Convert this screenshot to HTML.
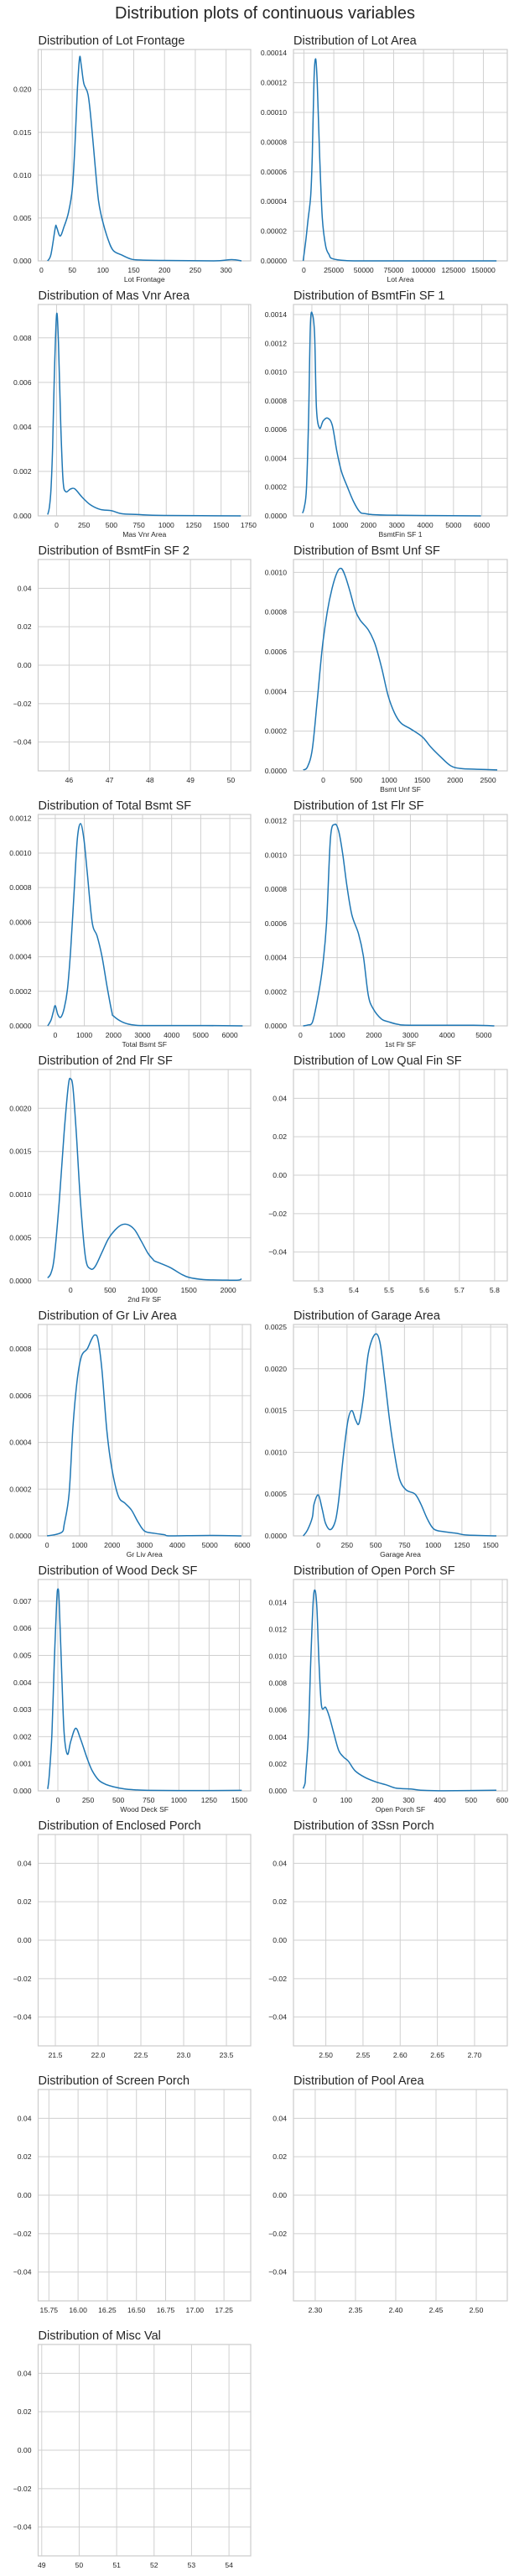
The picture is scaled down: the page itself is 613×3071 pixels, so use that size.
<!DOCTYPE html>
<html><head><meta charset="utf-8">
<style>
html,body{margin:0;padding:0;background:#fff;}
svg{display:block;font-family:"Liberation Sans",Arial,sans-serif;}
</style></head>
<body>
<svg id="fig" width="613" height="3071" viewBox="0 0 613 3071" xmlns="http://www.w3.org/2000/svg">
<rect width="613" height="3071" fill="#fff"/>
<text x="316" y="22" font-size="20" fill="#262626" text-anchor="middle">Distribution plots of continuous variables</text>
</svg>
<script>
// ---- data arrays ----
const lotFrontageX=[10,15.5,22.5,24.6,30.4,36.8,43.8,50.2,54.5,58.2,62,64.6,68.9,75.8,81.1,87.5,92.8,99.2,108.8,116.8,130,146,162,200,280,309,325];
const lotFrontageY=[0,0.00075,0.00385,0.00395,0.0029,0.0040,0.0056,0.0084,0.0135,0.0197,0.0237,0.0229,0.0207,0.0194,0.0161,0.0109,0.0070,0.0047,0.0024,0.0012,0.0007,0.0002,0.0001,0.00005,0,0.00015,0];
const lotAreaX=[-600,1600,3500,5700,7000,8500,9900,11200,13200,15400,18200,21000,23700,35000,60000,161000];
const lotAreaY=[0,0.0000137,0.0000279,0.0000439,0.0000702,0.000123,0.000136,0.000119,0.0000702,0.0000288,0.00001,0.0000043,0.0000015,0.0000002,0,0];
const masVnrX=[-81,-66,-51,-36,-21,0,17,38,59,83,128,167,233,308,398,502,592,742,981,1680];
const masVnrY=[0.00006,0.00037,0.00119,0.0031,0.0062,0.00905,0.0078,0.0041,0.0016,0.00109,0.00121,0.00121,0.00084,0.0005,0.00029,0.00023,0.0001,0.00006,0.00002,0];
const bsmtFin1X=[-331,-268,-192,-117,-52,22,98,161,268,397,556,720,881,1042,1256,1470,1684,1895,2650,5970];
const bsmtFin1Y=[0.000019,0.00006,0.00019,0.00067,0.00133,0.0014,0.00125,0.00075,0.00061,0.00066,0.00068,0.00063,0.00045,0.00031,0.0002,0.0001,0.00003,0.000015,0.000005,0];
const bsmtUnfX=[-304,-240,-166,-90,-15,60,134,210,274,335,409,484,559,684,784,885,983,1083,1182,1332,1507,1632,1782,1932,2081,2330,2640];
const bsmtUnfY=[0.000005,0.00002,0.00011,0.00036,0.00062,0.0008,0.00092,0.001,0.00102,0.00098,0.0009,0.00081,0.00076,0.00071,0.00064,0.00052,0.00038,0.00029,0.00024,0.00021,0.00017,0.00012,0.00007,0.000026,0.000012,0.000008,0.000005];
const totalBsmtX=[-259,-147,-69,0,89,190,305,418,530,643,758,870,985,1098,1268,1438,1608,1778,1945,2003,2340,2737,3190,5140,6440];
const totalBsmtY=[0,0.000033,0.00008,0.000117,0.000065,0.00005,0.0001,0.00021,0.00044,0.00076,0.00108,0.00117,0.00108,0.00089,0.0006,0.00052,0.0004,0.00023,0.00008,0.000057,0.00002,0.000004,0.000002,0.000002,0];
const firstFlrX=[72,200,323,459,594,710,818,935,1043,1150,1267,1402,1583,1715,1850,1985,2209,2387,2657,3017,4722,5290];
const firstFlrY=[0,0.000005,0.00002,0.00015,0.00033,0.0006,0.0011,0.00118,0.00114,0.00101,0.00082,0.00065,0.00054,0.00041,0.00018,0.0001,0.00004,0.000025,0.000009,0.000004,0.000004,0];
const secondFlrX=[-292,-250,-209,-146,-83,-29,0,29,71,125,188,251,313,397,480,564,647,732,814,897,981,1044,1065,1148,1273,1399,1503,1690,1983,2128,2170];
const secondFlrY=[0.000034,0.00009,0.00027,0.00091,0.00172,0.00227,0.00234,0.00224,0.00172,0.00091,0.00027,0.00014,0.00017,0.00033,0.00049,0.00059,0.00065,0.00065,0.00059,0.00046,0.00032,0.00025,0.00023,0.0002,0.00015,0.00008,0.00004,0.000015,0.000008,0.000008,0.000024];
const grLivX=[0,273,474,525,677,798,929,1060,1232,1363,1464,1566,1687,1838,1989,2191,2393,2596,2797,2999,3302,3604,3808,5017,5970];
const grLivY=[0,0.000006,0.000018,0.000047,0.00018,0.00047,0.00067,0.00077,0.0008,0.00084,0.00086,0.00084,0.00071,0.00045,0.00029,0.00017,0.00014,0.00011,0.000059,0.00002,0.000011,0.000005,0,0.000002,0];
const garageX=[-131,-94,-52,-37,0,34,63,106,149,177,220,258,292,327,355,392,435,492,536,578,621,664,707,764,842,893,950,1007,1093,1207,1294,1550];
const garageY=[0,0.00007,0.00022,0.00038,0.00049,0.00032,0.00015,0.000075,0.00018,0.00042,0.00098,0.00138,0.0015,0.00138,0.00135,0.00165,0.00218,0.00241,0.00232,0.00188,0.00138,0.00098,0.00068,0.00055,0.0005,0.00038,0.0002,0.00008,0.00005,0.00003,0.00001,0];
const woodDeckX=[-84,-71,-49,-30,-10,0,11,33,52,79,106,147,187,242,283,337,391,459,554,636,745,1152,1520];
const woodDeckY=[0.00007,0.00058,0.00212,0.0047,0.00696,0.00745,0.00696,0.00418,0.00212,0.00135,0.00182,0.00231,0.00192,0.0012,0.00075,0.0004,0.00025,0.00015,0.00007,0.00004,0.00002,0.00001,0.00002];
const openPorchX=[-38,-32,-30,-21,-14,-6,0,6,13,21,34,46,60,76,92,107,128,160,197,228,260,307,339,413,581];
const openPorchY=[0.00017,0.00055,0.0012,0.0043,0.0094,0.014,0.0149,0.0136,0.0094,0.0063,0.0062,0.0055,0.0043,0.003,0.0025,0.0022,0.0015,0.001,0.00065,0.00045,0.0002,0.00014,0.00005,0.00001,0.00005];

const titles=["Lot Frontage","Lot Area","Mas Vnr Area","BsmtFin SF 1","BsmtFin SF 2","Bsmt Unf SF","Total Bsmt SF","1st Flr SF","2nd Flr SF","Low Qual Fin SF","Gr Liv Area","Garage Area","Wood Deck SF","Open Porch SF","Enclosed Porch","3Ssn Porch","Screen Porch","Pool Area","Misc Val"];
const xTicksList=[[0,50,100,150,200,250,300],[0,25000,50000,75000,100000,125000,150000],[0,250,500,750,1000,1250,1500,1750],[0,1000,2000,3000,4000,5000,6000],[46,47,48,49,50],[0,500,1000,1500,2000,2500],[0,1000,2000,3000,4000,5000,6000],[0,1000,2000,3000,4000,5000],[0,500,1000,1500,2000],[5.3,5.4,5.5,5.6,5.7,5.8],[0,1000,2000,3000,4000,5000,6000],[0,250,500,750,1000,1250,1500],[0,250,500,750,1000,1250,1500],[0,100,200,300,400,500,600],[21.5,22,22.5,23,23.5],[2.5,2.55,2.6,2.65,2.7],[15.75,16,16.25,16.5,16.75,17,17.25],[2.3,2.35,2.4,2.45,2.5],[49,50,51,52,53,54]];
const xTickDec=[0,0,0,0,0,0,0,0,0,1,0,0,0,0,1,2,2,2,0];
const emptyYTicks=[-0.04,-0.02,0,0.02,0.04];
const yTicksList=[[0,0.005,0.01,0.015,0.02],[0,0.00002,0.00004,0.00006,0.00008,0.0001,0.00012,0.00014],[0,0.002,0.004,0.006,0.008],[0,0.0002,0.0004,0.0006,0.0008,0.001,0.0012,0.0014],emptyYTicks,[0,0.0002,0.0004,0.0006,0.0008,0.001],[0,0.0002,0.0004,0.0006,0.0008,0.001,0.0012],[0,0.0002,0.0004,0.0006,0.0008,0.001,0.0012],[0,0.0005,0.001,0.0015,0.002],emptyYTicks,[0,0.0002,0.0004,0.0006,0.0008],[0,0.0005,0.001,0.0015,0.002,0.0025],[0,0.001,0.002,0.003,0.004,0.005,0.006,0.007],[0,0.002,0.004,0.006,0.008,0.01,0.012,0.014],emptyYTicks,emptyYTicks,emptyYTicks,emptyYTicks,emptyYTicks];
const yTickDec=[3,5,3,4,2,4,4,4,4,2,4,4,3,3,2,2,2,2,2];
const xDomains=[[-5.3,340],[-8700,170000],[-168,1770],[-650,6900],[45.234,50.49],[-452,2792],[-588,6718],[-192,5645],[-413,2286],[5.2286,5.836],[-273,6257],[-216,1645],[-163,1594],[-69,616],[21.299,23.784],[2.4565,2.744],[15.658,17.479],[2.273,2.5385],[48.904,54.58]];
const yDomains=[[0,0.02467],[0,0.0001424],[0,0.0095],[0,0.00147],[-0.055,0.055],[0,0.001065],[0,0.001223],[0,0.001238],[0,0.00245],[-0.055,0.055],[0,0.000905],[0,0.00253],[0,0.0078],[0,0.0157],[-0.055,0.055],[-0.055,0.055],[-0.055,0.055],[-0.055,0.055],[-0.055,0.055]];
const seriesX=[lotFrontageX,lotAreaX,masVnrX,bsmtFin1X,null,bsmtUnfX,totalBsmtX,firstFlrX,secondFlrX,null,grLivX,garageX,woodDeckX,openPorchX,null,null,null,null,null];
const seriesY=[lotFrontageY,lotAreaY,masVnrY,bsmtFin1Y,null,bsmtUnfY,totalBsmtY,firstFlrY,secondFlrY,null,grLivY,garageY,woodDeckY,openPorchY,null,null,null,null,null];

// ---- drawing ----
const NS="http://www.w3.org/2000/svg";
const svg=document.getElementById('fig');
function mk(tag,attrs,parent){const e=document.createElementNS(NS,tag);for(const k in attrs)e.setAttribute(k,attrs[k]);parent.appendChild(e);return e;}
function slug(s){return s.toLowerCase().replace(/[^a-z0-9]+/g,'-').replace(/^-|-$/g,'');}
function smoothPath(p,maxY){
  let d='M'+p[0][0].toFixed(2)+','+p[0][1].toFixed(2);
  for(let k=0;k<p.length-1;k++){
    const p0=p[k-1]||p[k],p1=p[k],p2=p[k+1],p3=p[k+2]||p2;
    const c1x=p1[0]+(p2[0]-p0[0])/6,c1y=Math.min(maxY,p1[1]+(p2[1]-p0[1])/6);
    const c2x=p2[0]-(p3[0]-p1[0])/6,c2y=Math.min(maxY,p2[1]-(p3[1]-p1[1])/6);
    d+=' C'+c1x.toFixed(2)+','+c1y.toFixed(2)+' '+c2x.toFixed(2)+','+c2y.toFixed(2)+' '+p2[0].toFixed(2)+','+p2[1].toFixed(2);
  }
  return d;
}
const colLeft=[45.5,350],colW=[253.5,255],top0=59,pitch=304,axH=252;
titles.forEach((t,i)=>{
  const r=Math.floor(i/2),c=i%2;
  const L=colLeft[c],W=colW[c],T=top0+pitch*r,B=T+axH;
  const [x0,x1]=xDomains[i],[y0,y1]=yDomains[i];
  const sx=v=>L+(v-x0)/(x1-x0)*W;
  const sy=v=>B-(v-y0)/(y1-y0)*axH;
  const s=slug(t);
  const g=mk('g',{},svg);
  
  
  const ttl=mk('text',{x:L,y:T-6,'font-size':14.5,fill:'#262626'},g);
  
  
  ttl.textContent='Distribution of '+t;
  yTicksList[i].forEach(v=>{
    const y=sy(v);
    const gl=mk('line',{x1:L,x2:L+W,y1:y,y2:y,stroke:'#d0d0d0','stroke-width':1},g);
    
    
    const tx=mk('text',{x:L-8,y:y+3,'font-size':8.6,fill:'#262626','text-anchor':'end'},g);
    
    
    tx.textContent=v.toFixed(yTickDec[i]).replace('-','\u2212');
  });
  xTicksList[i].forEach(v=>{
    const x=sx(v);
    const gl=mk('line',{x1:x,x2:x,y1:T,y2:B,stroke:'#d0d0d0','stroke-width':1},g);
    
    
    const tx=mk('text',{x:x,y:B+14,'font-size':8.6,fill:'#262626','text-anchor':'middle'},g);
    
    
    tx.textContent=v.toFixed(xTickDec[i]);
  });
  const fr=mk('rect',{x:L,y:T,width:W,height:axH,fill:'none',stroke:'#cccccc','stroke-width':1.2},g);
  
  
  if(seriesX[i]){
    const pts=seriesX[i].map((xv,k)=>[sx(xv),sy(seriesY[i][k])]);
    const pl=mk('path',{d:smoothPath(pts,B),fill:'none',stroke:'#1f77b4','stroke-width':1.5,'stroke-linejoin':'round'},g);
    
    
    const xl=mk('text',{x:L+W/2,y:B+25,'font-size':8.6,fill:'#262626','text-anchor':'middle'},g);
    
    
    xl.textContent=t;
  }
});
</script>
</body></html>
